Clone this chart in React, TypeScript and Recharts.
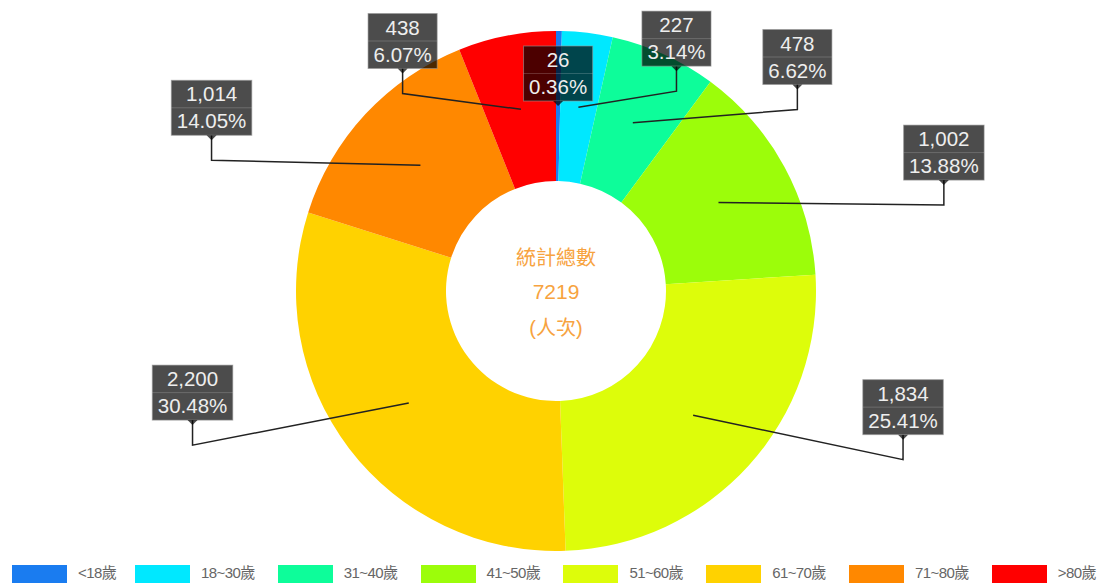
import React from 'react';
import { PieChart, Pie, Cell, Legend } from 'recharts';

// age groups, clockwise from 12 o'clock
const categories = ['<18歲', '18~30歲', '31~40歲', '41~50歲', '51~60歲', '61~70歲', '71~80歲', '>80歲'];
const counts = [26, 227, 478, 1002, 1834, 2200, 1014, 438];
const colors = ['#1a7cf0', '#00e8ff', '#0dfd9a', '#9cfd0a', '#ddfd0a', '#ffd200', '#ff8800', '#ff0000'];
const centerTitle = '統計總數';
const centerUnit = '(人次)';

const total = counts.reduce((a, b) => a + b, 0);
const data = categories.map((name, i) => ({ name, value: counts[i] }));

const FONT = '"Liberation Sans", Arial, "Noto Sans CJK TC", sans-serif';
const LABEL_SIZE = 20.5;

// rough text width for the label boxes (Arial metrics)
const textWidth = (s: string, size: number) =>
    s.split('').reduce((w, ch) => w + (ch === '.' || ch === ',' ? 0.278 : ch === '%' ? 0.889 : 0.556), 0) * size;

const renderLabel = (props: any) => {
    const { cx, cy, midAngle, innerRadius, outerRadius, value } = props;
    const share = value / total;
    const theta = ((90 - midAngle) * Math.PI) / 180; // clockwise from top
    const r = (innerRadius + outerRadius) / 2;
    const sx = cx + r * Math.sin(theta);
    const sy = cy - r * Math.cos(theta);
    const tiny = share < 0.01;
    const s = Math.sin(theta);
    const ex = tiny ? sx : sx + Math.sign(s) * 238 * Math.pow(Math.abs(s), 0.42);
    const ey = tiny ? sy : sy + 20 - 36.5 * Math.cos(theta);
    const bottom = tiny ? sy - 5 : ey - 25;

    const v = value.toLocaleString('en-US');
    const p = (share * 100).toFixed(2) + '%';
    const w = Math.max(textWidth(v, LABEL_SIZE), textWidth(p, LABEL_SIZE)) + 11;
    const h = 55;
    const top = bottom - h;

    return (
        <g>
            {!tiny && (
                <polyline
                    points={`${sx},${sy} ${ex},${ey} ${ex},${bottom}`}
                    fill="none"
                    stroke="#222"
                    strokeWidth={1.5}
                />
            )}
            <rect x={ex - w / 2} y={top} width={w} height={h} fill="rgba(0,0,0,0.7)" stroke="rgba(150,150,150,0.6)" strokeWidth={1} />
            <line x1={ex - w / 2} x2={ex + w / 2} y1={top + 27.5} y2={top + 27.5} stroke="rgba(255,255,255,0.18)" />
            <polygon points={`${ex - 5},${bottom} ${ex + 5},${bottom} ${ex},${bottom + 5}`} fill="rgba(0,0,0,0.7)" />
            <text x={ex} y={top + 21} textAnchor="middle" fill="#eee" fontSize={LABEL_SIZE} fontFamily={FONT}>{v}</text>
            <text x={ex} y={top + 48} textAnchor="middle" fill="#eee" fontSize={LABEL_SIZE} fontFamily={FONT}>{p}</text>
        </g>
    );
};

const LegendRow = () => (
    <div style={{ position: 'relative', width: 1118, height: 18 }}>
        {categories.map((name, i) => (
            <div
                key={name}
                style={{ position: 'absolute', left: i === 0 ? 12 : 135 + (i - 1) * 142.8, top: 0, display: 'flex', alignItems: 'flex-start' }}
            >
                <div style={{ width: 55, height: 18, background: colors[i] }} />
                <span style={{ marginLeft: 11, color: '#666', fontSize: 15, lineHeight: '16px', fontFamily: FONT, letterSpacing: -0.6 }}>{name}</span>
            </div>
        ))}
    </div>
);

export default function App() {
    return (
        <div style={{ position: 'absolute', left: 0, top: 0, width: 1118, height: 583, background: '#fff', overflow: 'hidden' }}>
            <PieChart width={1118} height={583} margin={{ top: 0, right: 0, bottom: 0, left: 0 }}>
                <Pie
                    data={data}
                    dataKey="value"
                    nameKey="name"
                    cx={556}
                    cy={291}
                    innerRadius={110}
                    outerRadius={260}
                    startAngle={90}
                    endAngle={-270}
                    stroke="none"
                    label={renderLabel}
                    labelLine={false}
                    isAnimationActive={false}
                >
                    {data.map((d, i) => (
                        <Cell key={d.name} fill={colors[i]} />
                    ))}
                </Pie>
                <text x={556} y={265} textAnchor="middle" fill="#f7a340" fontSize={20} fontFamily={FONT}>{centerTitle}</text>
                <text x={556} y={299} textAnchor="middle" fill="#f7a340" fontSize={21} fontFamily={FONT}>{total}</text>
                <text x={556} y={335} textAnchor="middle" fill="#f7a340" fontSize={20} fontFamily={FONT}>{centerUnit}</text>
                <Legend content={<LegendRow />} wrapperStyle={{ left: 0, top: 565, width: 1118, height: 18 }} />
            </PieChart>
        </div>
    );
}
